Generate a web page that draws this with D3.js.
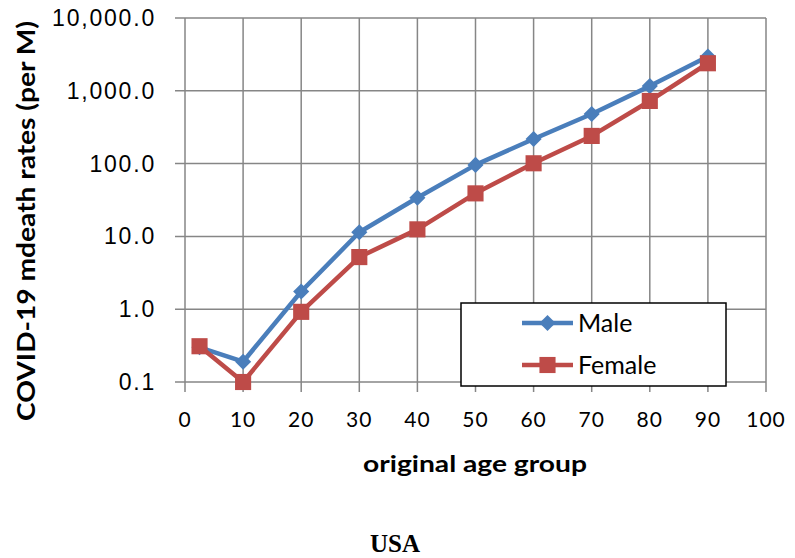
<!DOCTYPE html>
<html>
<head>
<meta charset="utf-8">
<script src="https://cdn.jsdelivr.net/npm/d3@7"></script>
<style>
  body { margin: 0; background: #fff; }
  svg { display: block; }
</style>
</head>
<body>
<svg id="chart" width="795" height="558"></svg>
<script>
const ages = [2.5, 10, 20, 30, 40, 50, 60, 70, 80, 90]
const male = [0.3, 0.19, 1.75, 11.4, 34, 96, 218, 480, 1160, 2950]
const female = [0.31, 0.1, 0.92, 5.2, 12.5, 39, 101, 240, 725, 2390]
const xTicks = [0, 10, 20, 30, 40, 50, 60, 70, 80, 90, 100]
const yTicks = [0.1, 1, 10, 100, 1000, 10000]

const svg = d3.select('#chart')
const plotLeft = 185, plotRight = 766, plotTop = 18, plotBottom = 382
const grid = '#868686'

const x = d3.scaleLinear().domain([0, 100]).range([plotLeft, plotRight])
const y = d3.scaleLog().domain([0.1, 10000]).range([plotBottom, plotTop])

// grid lines, ticks stick out past the axes
svg.append('g')
  .selectAll('line')
  .data(yTicks)
  .join('line')
  .attr('x1', plotLeft - 10).attr('x2', plotRight)
  .attr('y1', d => y(d)).attr('y2', d => y(d))
  .attr('stroke', grid).attr('stroke-width', 1.5)

svg.append('g')
  .selectAll('line')
  .data(xTicks)
  .join('line')
  .attr('x1', d => x(d)).attr('x2', d => x(d))
  .attr('y1', plotTop).attr('y2', plotBottom + 10)
  .attr('stroke', grid).attr('stroke-width', 1.5)

// tick labels
const fmt = d3.format(',.1f')
svg.append('g')
  .selectAll('text')
  .data(yTicks)
  .join('text')
  .attr('x', 156)
  .attr('y', d => y(d))
  .attr('dy', '0.35em')
  .attr('text-anchor', 'end')
  .attr('font-family', 'Liberation Sans, Arial, sans-serif')
  .attr('font-size', 23)
  .attr('letter-spacing', 1.8)
  .attr('fill', '#000')
  .text(d => fmt(d))

svg.append('g')
  .selectAll('text')
  .data(xTicks)
  .join('text')
  .attr('x', d => x(d))
  .attr('y', 420)
  .attr('dy', '0.35em')
  .attr('text-anchor', 'middle')
  .attr('font-family', 'Lato, sans-serif')
  .attr('font-size', 21)
  .attr('letter-spacing', 1)
  .attr('fill', '#000')
  .text(d => d)

// axis titles
svg.append('text')
  .attr('x', 475).attr('y', 472)
  .attr('text-anchor', 'middle')
  .attr('font-family', 'Lato, sans-serif')
  .attr('font-weight', 'bold')
  .attr('font-size', 22)
  .attr('textLength', 224)
  .attr('lengthAdjust', 'spacingAndGlyphs')
  .text('original age group')

svg.append('text')
  .attr('transform', 'translate(35, 221) rotate(-90)')
  .attr('text-anchor', 'middle')
  .attr('font-family', 'Lato, sans-serif')
  .attr('font-weight', 'bold')
  .attr('font-size', 24)
  .attr('textLength', 400)
  .attr('lengthAdjust', 'spacingAndGlyphs')
  .text('COVID-19 mdeath rates (per M)')

svg.append('text')
  .attr('x', 395).attr('y', 552)
  .attr('text-anchor', 'middle')
  .attr('font-family', 'Liberation Serif, Times New Roman, serif')
  .attr('font-weight', 'bold')
  .attr('font-size', 25)
  .text('USA')

// series
const series = [
  {name: 'Male', values: male, color: '#4A7EBB', symbol: d3.symbolSquare, size: 130, rotate: 45},
  {name: 'Female', values: female, color: '#BE4B48', symbol: d3.symbolSquare, size: 260, rotate: 0}
]

const line = d3.line()
  .x((d, i) => x(ages[i]))
  .y(d => y(d))

series.forEach(s => {
  svg.append('path')
    .datum(s.values)
    .attr('d', line)
    .attr('fill', 'none')
    .attr('stroke', s.color)
    .attr('stroke-width', 4.5)
    .attr('stroke-linejoin', 'round')

  svg.append('g')
    .selectAll('path')
    .data(s.values)
    .join('path')
    .attr('transform', (d, i) => `translate(${x(ages[i])}, ${y(d)}) rotate(${s.rotate})`)
    .attr('d', d3.symbol().type(s.symbol).size(s.size))
    .attr('fill', s.color)
})

// legend
const legend = svg.append('g')
legend.append('rect')
  .attr('x', 461).attr('y', 303)
  .attr('width', 265).attr('height', 83)
  .attr('fill', '#fff')
  .attr('stroke', '#000')
  .attr('stroke-width', 1.5)

series.forEach((s, i) => {
  const ly = 323 + i * 42
  legend.append('line')
    .attr('x1', 522).attr('x2', 573)
    .attr('y1', ly).attr('y2', ly)
    .attr('stroke', s.color)
    .attr('stroke-width', 4.5)
  legend.append('path')
    .attr('transform', `translate(547.5, ${ly}) rotate(${s.rotate})`)
    .attr('d', d3.symbol().type(s.symbol).size(s.size))
    .attr('fill', s.color)
  legend.append('text')
    .attr('x', 578).attr('y', ly)
    .attr('dy', '0.35em')
    .attr('font-family', 'Lato, sans-serif')
    .attr('font-size', 25)
    .text(s.name)
})
</script>
</body>
</html>
